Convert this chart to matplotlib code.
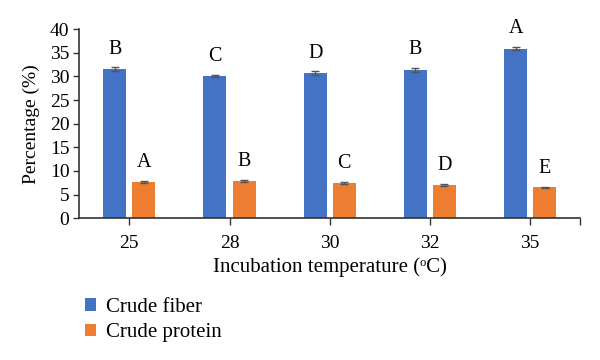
import numpy as np
import matplotlib.pyplot as plt

plt.rcParams['font.family'] = ['Liberation Serif', 'DejaVu Serif']

# data
temps = ['25', '28', '30', '32', '35']
fiber = [31.6, 30.1, 30.7, 31.4, 35.9]
fiber_err = [0.4, 0.3, 0.4, 0.4, 0.35]
protein = [7.7, 7.9, 7.5, 7.0, 6.5]
protein_err = [0.2, 0.2, 0.2, 0.2, 0.15]
fiber_letters = ['B', 'C', 'D', 'B', 'A']
protein_letters = ['A', 'B', 'C', 'D', 'E']

blue = '#4472C4'
orange = '#ED7D31'

fig = plt.figure(figsize=(6, 3.6), dpi=100)
ax = fig.add_axes([0.132, 0.394, 0.835, 0.525])

x = np.arange(len(temps))
w = 0.23
off = 0.145
ax.bar(x - off, fiber, w, color=blue, label='Crude fiber',
       yerr=fiber_err, error_kw=dict(ecolor='#555555', capsize=3, elinewidth=1, capthick=1))
ax.bar(x + off, protein, w, color=orange, label='Crude protein',
       yerr=protein_err, error_kw=dict(ecolor='#555555', capsize=3, elinewidth=1, capthick=1))

for i in range(len(temps)):
    ax.text(x[i] - off, fiber[i] + 4.2, fiber_letters[i], ha='center', va='center', fontsize=14.5)
    ax.text(x[i] + off, protein[i] + 4.1, protein_letters[i], ha='center', va='center', fontsize=14.5)

ax.set_xlim(-0.5, 4.5)
ax.set_ylim(0, 40)
ax.set_yticks(range(0, 41, 5))
ax.set_xticks(x)
ax.set_xticklabels(temps)
ax.set_xticks([4.5], minor=True)
ax.tick_params(axis='x', which='both', direction='out', length=5, width=1, colors='#333333',
               labelcolor='black', labelsize=14, pad=7)
ax.tick_params(axis='y', direction='out', length=4, width=1, colors='#333333',
               labelcolor='black', labelsize=14, pad=3)

for s in ['top', 'right']:
    ax.spines[s].set_visible(False)
for s in ['left', 'bottom']:
    ax.spines[s].set_color('#333333')
    ax.spines[s].set_linewidth(1.2)

ax.set_xlabel('Incubation temperature (ᵒC)', fontsize=15, labelpad=4)
ax.set_ylabel('Percentage (%)', fontsize=14, labelpad=7)

fig.legend(loc='upper left', bbox_to_anchor=(0.127, 0.195), frameon=False,
           fontsize=15, handlelength=0.55, handleheight=0.55, handletextpad=0.5,
           labelspacing=0.3, borderaxespad=0)

fig.savefig('out.png', dpi=100)
